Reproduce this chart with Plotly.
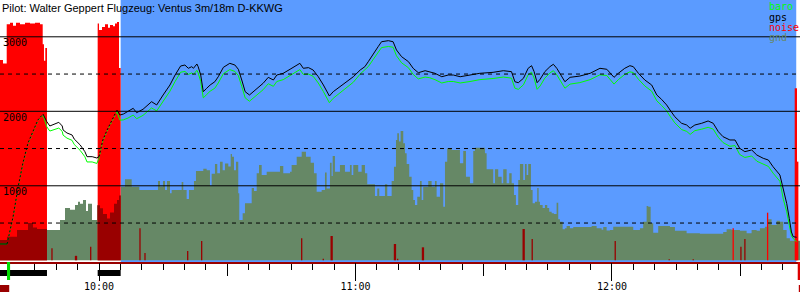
import plotly.graph_objects as go

# ---------------- data (time = minutes after 09:00, altitude in m) ----------------
t_track = [36.8, 38.5, 39.9, 41.1, 42.2, 43.4, 44.6, 45.7, 46.9, 47.8,
           48.5, 49.7, 50.6, 51.4, 51.6, 52.5, 53.7, 54.2, 55.6, 56.7,
           57.2, 58.4, 59.5, 60.0, 60.9, 61.9, 63.0, 64.2, 64.9, 65.7,
           66.8, 68.0, 68.8, 70.3, 72.3, 73.5, 75.0, 76.6, 77.8, 79.1,
           80.1, 80.9, 81.7, 82.1, 82.9, 83.2, 83.8, 84.4, 85.2, 86.0,
           87.1, 87.9, 89.1, 90.6, 91.8, 92.6, 93.4, 94.2, 95.2, 96.5,
           98.4, 99.6, 100.8, 101.6, 103.1, 104.7, 107.0, 107.8, 109.0, 110.1,
           111.3, 112.5, 113.3, 113.9, 114.8, 116.4, 117.9, 119.5, 121.1, 122.2,
           123.0, 124.2, 125.3, 126.1, 127.7, 128.8, 129.6, 130.8, 132.4, 133.5,
           134.7, 136.3, 137.4, 138.6, 140.2, 141.7, 142.9, 144.5, 146.8, 149.1,
           152.2, 154.6, 156.5, 157.3, 158.1, 159.3, 160.4, 161.2, 161.8, 162.5,
           163.2, 164.3, 165.5, 166.3, 167.1, 168.2, 169.0, 170.2, 172.5, 174.9,
           177.2, 178.8, 179.9, 180.5, 181.5, 183.0, 184.2, 185.0, 186.2, 187.7,
           189.3, 190.5, 191.6, 192.8, 193.6, 194.7, 196.3, 197.5, 198.3, 199.4,
           201.0, 202.5, 203.7, 204.9, 206.0, 207.6, 208.8, 209.9, 211.1, 212.7,
           213.9, 215.4, 216.6, 217.7, 219.3, 220.1, 220.9, 221.5, 222.0, 222.4,
           223.2]
gps = [219, 219, 585, 988, 1306, 1575, 1749, 1883, 1963, 1860,
       1803, 1829, 1852, 1803, 1749, 1709, 1682, 1628, 1548, 1458,
       1391, 1391, 1373, 1391, 1615, 1749, 1883, 2017, 1950, 1963,
       1995, 2040, 1981, 2027, 2129, 2085, 2219, 2353, 2487, 2608,
       2621, 2577, 2599, 2577, 2635, 2599, 2487, 2263, 2309, 2353,
       2397, 2464, 2590, 2644, 2621, 2564, 2420, 2263, 2219, 2286,
       2376, 2456, 2420, 2487, 2510, 2564, 2644, 2577, 2586, 2554,
       2464, 2353, 2263, 2205, 2263, 2330, 2397, 2464, 2554, 2599,
       2666, 2778, 2867, 2934, 2948, 2934, 2823, 2733, 2666, 2577,
       2518, 2545, 2532, 2510, 2464, 2487, 2487, 2464, 2487, 2510,
       2523, 2545, 2532, 2397, 2384, 2443, 2577, 2612, 2532, 2384,
       2430, 2532, 2599, 2631, 2577, 2464, 2397, 2456, 2473, 2510,
       2577, 2564, 2487, 2456, 2510, 2577, 2612, 2599, 2510, 2420,
       2353, 2219, 2161, 2085, 2017, 1928, 1839, 1816, 1772, 1816,
       1839, 1870, 1839, 1726, 1659, 1615, 1615, 1503, 1458, 1481,
       1413, 1369, 1346, 1256, 1145, 940, 760, 560, 380, 317,
       309]
baro = [219, 219, 570, 975, 1290, 1560, 1735, 1870, 1950, 1790,
        1735, 1755, 1775, 1730, 1680, 1640, 1610, 1555, 1475, 1390,
        1320, 1320, 1300, 1370, 1600, 1735, 1870, 1995, 1880, 1885,
        1910, 1950, 1900, 1945, 2045, 2005, 2135, 2270, 2400, 2525,
        2535, 2495, 2515, 2495, 2550, 2515, 2400, 2180, 2225, 2270,
        2310, 2380, 2505, 2560, 2535, 2480, 2335, 2180, 2135, 2200,
        2290, 2370, 2335, 2400, 2425, 2480, 2560, 2495, 2500, 2470,
        2380, 2265, 2175, 2115, 2175, 2245, 2315, 2390, 2500, 2560,
        2600, 2700, 2790, 2855, 2870, 2860, 2745, 2650, 2585, 2495,
        2435, 2460, 2450, 2425, 2380, 2400, 2400, 2380, 2400, 2425,
        2440, 2460, 2445, 2310, 2295, 2355, 2490, 2525, 2445, 2295,
        2340, 2445, 2515, 2545, 2490, 2375, 2310, 2365, 2385, 2425,
        2490, 2480, 2400, 2365, 2425, 2495, 2530, 2520, 2430, 2340,
        2270, 2140, 2080, 2005, 1935, 1845, 1755, 1730, 1690, 1740,
        1760, 1785, 1760, 1650, 1580, 1530, 1540, 1420, 1380, 1400,
        1330, 1285, 1260, 1170, 1060, 820, 650, 470, 330, 290,
        250]

t_gnd = [36.84, 38.48, 40.82, 43.39, 44.56, 45.50, 47.83, 50.88, 52.05, 53.22,
         54.39, 55.09, 55.55, 56.26, 56.96, 57.43, 58.36, 59.53, 60.23, 60.93,
         61.87, 62.57, 63.51, 64.21, 64.68, 65.14, 66.08, 67.65, 69.43, 73.80,
         74.27, 74.97, 75.44, 75.91, 76.61, 77.00, 79.34, 79.72, 80.51, 81.05,
         82.22, 82.69, 84.40, 85.19, 85.96, 86.36, 87.13, 87.67, 88.30, 88.93,
         89.47, 90.25, 90.81, 91.11, 91.58, 92.05, 92.58, 92.82, 93.61, 94.15,
         95.72, 96.26, 96.89, 97.43, 98.06, 99.23, 102.34, 103.11, 104.68, 105.07,
         106.25, 107.42, 108.42, 109.52, 110.29, 110.92, 112.09, 112.87, 113.26, 114.03,
         114.43, 114.67, 115.20, 116.37, 117.54, 118.71, 119.11, 119.49, 120.65, 121.45,
         122.22, 122.76, 124.56, 125.10, 125.57, 126.90, 127.44, 128.47, 129.01, 129.48,
         129.78, 130.17, 130.57, 131.18, 131.58, 131.98, 132.58, 133.14, 133.52, 133.92,
         134.46, 135.09, 135.49, 135.86, 137.03, 137.82, 138.60, 138.99, 139.77, 140.54,
         140.94, 141.47, 142.50, 144.44, 145.22, 145.85, 146.78, 147.56, 147.95, 150.29,
         150.69, 152.23, 152.63, 153.40, 154.20, 154.57, 155.37, 155.98, 156.54, 157.08,
         157.54, 158.08, 158.48, 159.25, 159.65, 160.05, 160.42, 161.05, 161.45, 161.99,
         162.53, 162.85, 163.16, 163.79, 164.33, 164.87, 165.33, 165.90, 166.43, 167.06,
         167.44, 167.84, 168.47, 169.01, 169.40, 170.18, 170.95, 175.25, 176.42, 177.59,
         177.97, 178.76, 179.53, 180.31, 184.99, 186.55, 187.32, 188.12, 188.49, 189.06,
         189.66, 190.83, 193.57, 194.74, 197.47, 200.58, 206.04, 206.83, 208.00, 209.94,
         211.51, 212.68, 213.85, 214.62, 215.79, 216.56, 217.36, 218.53, 219.30, 220.07,
         220.87, 221.64, 224.00]
gnd = [272, 317, 407, 500, 440, 420, 407, 540, 702, 680,
       742, 787, 760, 809, 660, 760, 540, 740, 700, 620,
       560, 640, 760, 810, 870, 988, 1087, 988, 943, 1064,
       990, 1064, 943, 1064, 900, 943, 1050, 943, 823, 943,
       1064, 1199, 1230, 1210, 1000, 1160, 1293, 1170, 1324, 1210,
       1300, 1260, 1427, 1390, 1210, 1324, 900, 541, 631, 765,
       970, 930, 1170, 1279, 1145, 1190, 1266, 1170, 1190, 1279,
       1391, 1458, 1391, 1310, 1168, 921, 943, 1177, 965, 1310,
       1130, 1400, 1190, 1279, 1190, 1279, 1145, 1279, 1190, 1279,
       1168, 1020, 863, 965, 863, 1020, 863, 1064, 1257, 1615,
       1705, 1595, 1736, 1570, 1436, 1293, 1122, 943, 809, 742,
       854, 1064, 809, 988, 1064, 988, 1064, 854, 1033, 720,
       1324, 1503, 1480, 1302, 1467, 1122, 1033, 1467, 1512, 1436,
       1221, 1033, 1221, 1122, 1033, 1221, 1033, 1167, 1033, 876,
       742, 1078, 1293, 1078, 1293, 1145, 1293, 943, 765, 787,
       970, 787, 742, 702, 742, 702, 652, 630, 621, 774,
       550, 518, 416, 430, 460, 430, 447, 460, 430, 410,
       447, 400, 407, 451, 407, 430, 518, 729, 720, 496,
       371, 460, 447, 398, 362, 355, 380, 416, 407, 398,
       362, 407, 398, 430, 451, 550, 474, 532, 518, 407,
       295, 263, 272]

# engine noise level during the two engine runs (step profile)
t_noise = [36.84, 37.54, 38.41, 39.18, 39.88, 40.58, 41.52, 42.69, 43.86, 45.03,
           46.20, 46.83, 47.13, 47.44, 47.83,
           59.69, 60.00, 60.70, 61.40, 62.10, 62.57, 63.27, 63.74, 64.21, 64.68, 65.07]
noise = [2690, 2640, 3170, 3190, 3150, 3190, 3170, 3190, 3180, 3190,
         3170, 2900, 2680, 2850, 0,
         3180, 3090, 3130, 3170, 3120, 3160, 3140, 3180, 3200, 2580, 0]

# short noise peaks during the flight
t_peak = [49.00, 54.62, 58.06, 69.59, 70.76, 80.75, 84.02, 107.42, 112.47, 114.43,
          129.24, 129.87, 135.79, 159.35, 161.35, 180.77, 193.40, 199.02, 208.37, 210.18,
          211.11, 216.42, 223.03, 223.35]
peak = [161, 60, 183, 430, 98, 125, 259, 295, 20, 326,
        219, 20, 174, 420, 286, 259, 15, 15, 430, 183,
        286, 639, 2309, 1324]
peak_px = [1, 2, 1, 1, 1, 1, 1, 1, 1, 2,
           2, 1, 2, 2, 1, 1, 1, 1, 1, 1,
           1, 1, 2, 2]
peak_loud = [0, 0, 0, 0, 0, 0, 0, 0, 0, 0,
             0, 0, 0, 0, 0, 0, 0, 0, 1, 0,
             0, 1, 1, 1]

engine_runs = [(36.84, 47.83), (59.69, 65.07)]
climbs = [(38.5, 46.9), (60.0, 64.2)]
takeoff = (38.48, 39.2)
landing = 223.12
t_start, t_end = 36.84, 224.0

hour_ticks = [60, 120, 180]
hour_labels = ["10:00", "11:00", "12:00"]
half_hour_ticks = [90, 150, 210]
alt_ticks = [1000, 2000, 3000]
alt_labels = ["1000", "2000", "3000"]
grid_dashed = [500, 1500, 2500]

title = "Pilot: Walter Geppert Flugzeug: Ventus 3m/18m D-KKWG"
legend_names = ["baro", "gps", "noise", "gnd"]

# ---------------- colours ----------------
C_BLUE = "#5b9bff"
C_GND = "#668866"
C_RED = "#ff0000"
C_DARKRED = "#990000"
C_BARO = "#00ff00"
C_GPS = "#000000"
legend_colors = [C_BARO, C_GPS, C_RED, C_GND]

MONO = "DejaVu Sans Mono"


def clip_steps(ts, vs, a, b):
    cur = vs[0]
    for t, v in zip(ts, vs):
        if t <= a:
            cur = v
    xs, ys = [a], [cur]
    for t, v in zip(ts, vs):
        if a < t < b:
            xs.append(t)
            ys.append(v)
    xs.append(b)
    ys.append(0)
    return xs, ys


def split_series(ts, vs, intervals):
    solid, dotted = [], []
    for t, v in zip(ts, vs):
        inside = any(a <= t <= b for a, b in intervals)
        strict = any(a < t < b for a, b in intervals)
        solid.append(None if strict else v)
        dotted.append(v if inside else None)
    return solid, dotted


fig = go.Figure()

# ground elevation
fig.add_trace(go.Scatter(x=t_gnd, y=gnd, mode="lines", line=dict(width=0, shape="hv"),
                         fill="tozeroy", fillcolor=C_GND, hoverinfo="skip", showlegend=False))
# engine noise
fig.add_trace(go.Scatter(x=t_noise, y=noise, mode="lines", line=dict(width=0, shape="hv"),
                         fill="tozeroy", fillcolor=C_RED, hoverinfo="skip", showlegend=False))
# ground under engine noise
for a, b in engine_runs:
    xs, ys = clip_steps(t_gnd, gnd, a, b)
    fig.add_trace(go.Scatter(x=xs, y=ys, mode="lines", line=dict(width=0, shape="hv"),
                             fill="tozeroy", fillcolor=C_DARKRED, hoverinfo="skip",
                             showlegend=False))
# noise peaks (vertical strokes)
for loud in (0, 1):
    for px in (1, 2):
        xs, ys = [], []
        for t, v, w, l in zip(t_peak, peak, peak_px, peak_loud):
            if l == loud and w == px:
                xs += [t, t, None]
                ys += [0, v, None]
        if xs:
            fig.add_trace(go.Scatter(x=xs, y=ys, mode="lines",
                                     line=dict(color=C_RED if loud else C_DARKRED,
                                               width=px + 0.3),
                                     hoverinfo="skip", showlegend=False))

# baro and gps tracks
for vals, col in ((baro, C_BARO), (gps, C_GPS)):
    solid, dotted = split_series(t_track, vals, climbs)
    fig.add_trace(go.Scatter(x=t_track, y=solid, mode="lines", line=dict(color=col, width=1),
                             connectgaps=False, hoverinfo="skip", showlegend=False))
    fig.add_trace(go.Scatter(x=t_track, y=dotted, mode="lines",
                             line=dict(color=col, width=1, dash="2px,2px"),
                             connectgaps=False, hoverinfo="skip", showlegend=False))

# dummy trace on the hour axis
fig.add_trace(go.Scatter(x=[hour_ticks[0]], y=[None], xaxis="x2", mode="markers",
                         hoverinfo="skip", showlegend=False))

PLOT_H = 262.0


def py(screen_y):
    return (PLOT_H - screen_y) / PLOT_H


shapes = []
# white background outside free flight
shapes.append(dict(type="rect", xref="x", yref="paper", x0=t_start, x1=engine_runs[-1][1],
                   y0=0, y1=1, fillcolor="white", line=dict(width=0), layer="below"))
shapes.append(dict(type="rect", xref="x", yref="paper", x0=landing, x1=t_end,
                   y0=0, y1=1, fillcolor="white", line=dict(width=0), layer="below"))
# grid lines
for v in alt_ticks:
    shapes.append(dict(type="line", xref="paper", yref="y", x0=0, x1=1, y0=v, y1=v,
                       line=dict(color="black", width=1), layer="above"))
for v in grid_dashed:
    shapes.append(dict(type="line", xref="paper", yref="y", x0=0, x1=1, y0=v, y1=v,
                       line=dict(color="black", width=1, dash="4px,4px"), layer="above"))
# engine bars below the axis
for a, b in engine_runs:
    shapes.append(dict(type="rect", xref="x", yref="paper", x0=a, x1=b,
                       y0=py(276), y1=py(270), fillcolor="black", line=dict(width=0)))
# takeoff marker
shapes.append(dict(type="rect", xref="x", yref="paper", x0=takeoff[0], x1=takeoff[1],
                   y0=py(280), y1=py(262), fillcolor="#00dd00", line=dict(width=0)))
shapes.append(dict(type="rect", xref="x", yref="paper", x0=t_start, x1=takeoff[1] - 0.2,
                   y0=py(292), y1=py(285), fillcolor=C_DARKRED, line=dict(width=0)))
# landing marker
shapes.append(dict(type="rect", xref="x", yref="paper", x0=landing + 0.35, x1=t_end,
                   y0=py(280), y1=py(262), fillcolor="#dd0000", line=dict(width=0)))
shapes.append(dict(type="rect", xref="x", yref="paper", x0=landing + 0.6, x1=t_end,
                   y0=py(292), y1=py(285), fillcolor="#bb0000", line=dict(width=0)))

annotations = [dict(text=title, xref="paper", yref="paper", x=0, y=1, xanchor="left",
                    yanchor="top", showarrow=False,
                    font=dict(family="Liberation Sans", size=11, color="black"))]
for i, (name, col) in enumerate(zip(legend_names, legend_colors)):
    annotations.append(dict(text=name, xref="paper", yref="paper", x=767 / 800,
                            y=py(7 + 10.3 * i), xanchor="left", yanchor="middle",
                            showarrow=False, font=dict(family=MONO, size=10, color=col)))

fig.update_layout(
    width=800, height=300,
    margin=dict(l=0, r=0, t=0, b=38),
    paper_bgcolor="white", plot_bgcolor=C_BLUE,
    showlegend=False,
    shapes=shapes, annotations=annotations,
    xaxis=dict(range=[t_start, t_end], tickmode="array", tickvals=half_hour_ticks,
               ticktext=[""] * len(half_hour_ticks), ticks="outside", ticklen=12,
               tickcolor="black", tickwidth=1, showline=True, linecolor=C_DARKRED,
               linewidth=2, showgrid=False, zeroline=False,
               minor=dict(tickmode="linear", tick0=0, dtick=5, ticks="outside", ticklen=6,
                          tickcolor="black", tickwidth=1, showgrid=False)),
    xaxis2=dict(overlaying="x", anchor="y", side="bottom", range=[t_start, t_end],
                tickmode="array", tickvals=hour_ticks, ticktext=hour_labels,
                ticks="outside", ticklen=18, tickcolor="black", tickwidth=1,
                ticklabelstandoff=-3,
                showline=False, showgrid=False, zeroline=False,
                tickfont=dict(family=MONO, size=10, color="black")),
    yaxis=dict(range=[-23, 3494], tickmode="array", tickvals=alt_ticks, ticktext=alt_labels,
               ticks="", showgrid=False, zeroline=False, showline=False,
               ticklabelposition="inside", ticklabelshift=6, ticklabelstandoff=0,
               tickfont=dict(family=MONO, size=10, color="black")),
)

fig.write_html("out.html")
